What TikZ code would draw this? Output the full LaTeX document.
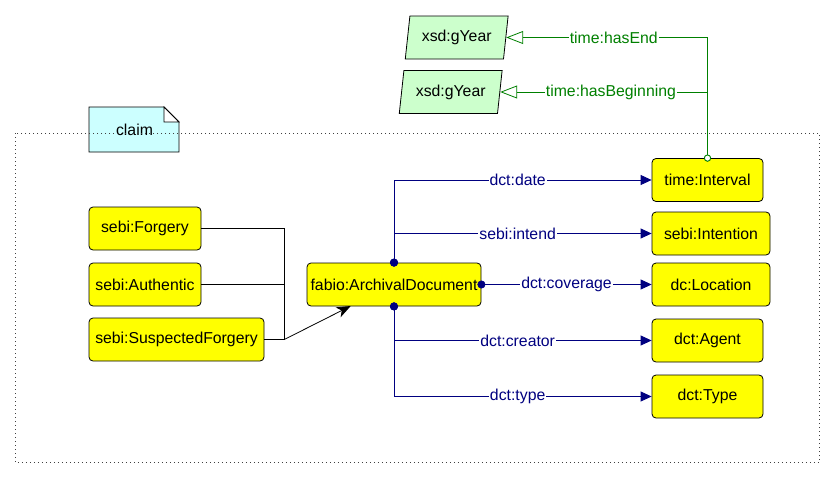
\documentclass[tikz,border=0pt]{standalone}
\usepackage{fontspec}
\setmainfont{Liberation Sans}
\usetikzlibrary{arrows.meta,shapes.geometric}
\definecolor{classyellow}{RGB}{255,255,0}
\definecolor{yeargreen}{RGB}{204,255,204}
\definecolor{notecyan}{RGB}{204,255,255}
\definecolor{propblue}{RGB}{0,0,128}
\definecolor{propgreen}{RGB}{0,128,0}
\tikzset{
	diagfont/.style={font=\fontsize{15.8}{18}\selectfont},
	class/.style={draw, fill=classyellow, rounded corners=4pt, line width=0.8pt, minimum height=43pt, diagfont},
	datatype/.style={draw, fill=yeargreen, trapezium, trapezium left angle=80, trapezium right angle=100, trapezium stretches=true, line width=0.8pt, minimum width=103pt, minimum height=43pt, diagfont},
	objprop/.style={draw=propblue, line width=0.8pt, shorten <=-4pt, {Circle[length=8pt]}-{Triangle[length=11pt,width=10pt]}},
	dataprop/.style={draw=propgreen, line width=0.8pt, shorten <=-3.5pt, {Circle[open,fill=white,length=7pt]}-{Triangle[open,fill=white,length=17pt,width=13pt]}},
	proplabel/.style={fill=white, text=propblue, inner sep=1pt, diagfont},
	yearlabel/.style={fill=white, text=propgreen, inner sep=1pt, diagfont},
}
\begin{document}
\begin{tikzpicture}[x=1pt,y=-1pt]
	\useasboundingbox (0,0) rectangle (835,479);
	% note
	\draw[fill=notecyan, line width=0.8pt] (89,107) -- (164,107) -- (179,122) -- (179,152) -- (89,152) -- cycle;
	\draw[fill=white, line width=0.8pt] (164,107) -- (164,122) -- (179,122) -- cycle;
	\node[diagfont] (claim) at (134.5,130) {claim};
	\draw[black!75, line width=0.8pt, dash pattern=on 1pt off 3pt] (15.3,133.3) rectangle (819.3,462.7);

	\node[class, minimum width=112pt] (forgery) at (145,228.5) {sebi:Forgery};
	\node[class, minimum width=112pt] (authentic) at (145,284.5) {sebi:Authentic};
	\node[class, minimum width=175pt] (suspected) at (176.5,339.5) {sebi:SuspectedForgery};
	\node[class, minimum width=174pt] (archival) at (394,284.5) {fabio:ArchivalDocument};
	\node[class, minimum width=111pt] (interval) at (707.5,180) {time:Interval};
	\node[class, minimum width=118pt] (intention) at (711,233.5) {sebi:Intention};
	\node[class, minimum width=118pt] (location) at (711,284.5) {dc:Location};
	\node[class, minimum width=111pt] (agent) at (707.5,340.5) {dct:Agent};
	\node[class, minimum width=111pt] (type) at (707.5,396.5) {dct:Type};
	\node[datatype] (endyear) at (456.7,37.5) {xsd:gYear};
	\node[datatype] (beginyear) at (450.7,92) {xsd:gYear};

	% subclass tree
	\coordinate (join) at (284.3,339.5);
	\coordinate (hit) at (350.7,306);
	\draw[line width=0.8pt] (forgery.east) -| (join);
	\draw[line width=0.8pt] (authentic.east) -| (join);
	\draw[line width=0.8pt] (suspected.east) -- (join);
	\draw[line width=0.8pt, -{Stealth[length=14pt,width=11pt,inset=4pt]}] (join) -- (hit);

	\draw[objprop] (archival.north) |- node[proplabel, pos=.74] {dct:date} (interval.west);
	\draw[objprop] (archival.north) |- node[proplabel, pos=.74] {sebi:intend} (intention.west);
	\draw[objprop] (archival.east) -- node[proplabel] {dct:coverage} (location.west);
	\draw[objprop] (archival.south) |- node[proplabel, pos=.74] {dct:creator} (agent.west);
	\draw[objprop] (archival.south) |- node[proplabel, pos=.74] {dct:type} (type.west);

	\draw[dataprop] (interval.north) |- node[yearlabel, pos=.733] {time:hasEnd} (endyear.east);
	\draw[dataprop] (interval.north) |- node[yearlabel, pos=.733] {time:hasBeginning} (beginyear.east);
\end{tikzpicture}
\end{document}
